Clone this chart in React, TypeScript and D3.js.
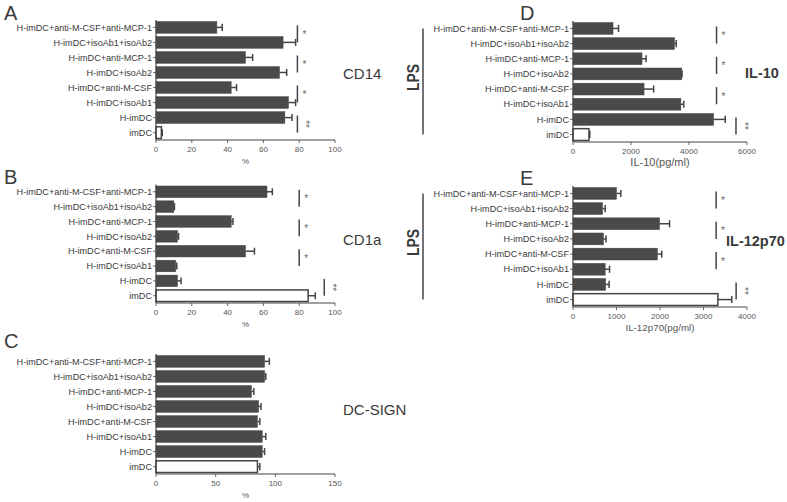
import * as d3 from 'd3';

const GROUPS = [
  'H-imDC+anti-M-CSF+anti-MCP-1',
  'H-imDC+isoAb1+isoAb2',
  'H-imDC+anti-MCP-1',
  'H-imDC+isoAb2',
  'H-imDC+anti-M-CSF',
  'H-imDC+isoAb1',
  'H-imDC',
  'imDC',
];

// means and upper error ends
const CD14 = [34, 71, 50, 69, 42, 74, 72, 3];
const CD14_ERR = [37, 78, 54, 73, 45, 78, 76, 3.5];
const CD1A = [62, 10, 42, 12, 50, 11, 12, 85];
const CD1A_ERR = [65, 10.3, 43, 12.6, 55, 11.6, 14, 89];
const DCSIGN = [91, 91, 80, 86, 85, 89, 89, 85];
const DCSIGN_ERR = [95, 92, 82, 88, 87, 92, 91, 87];
const IL10 = [1380, 3500, 2380, 3750, 2450, 3720, 4850, 550];
const IL10_ERR = [1570, 3560, 2520, 3760, 2780, 3820, 5250, 580];
const IL12 = [1000, 680, 1990, 700, 1940, 740, 750, 3330];
const IL12_ERR = [1100, 740, 2220, 760, 2040, 840, 830, 3650];

const PCT_TICKS = [0, 20, 40, 60, 80, 100];
const SIGN_TICKS = [0, 50, 100, 150];
const IL10_TICKS = [0, 2000, 4000, 6000];
const IL12_TICKS = [0, 1000, 2000, 3000, 4000];

type Bracket = { from: number; to: number; at: number; mark: string };

const CD14_SIG: Bracket[] = [
  { from: 0, to: 1, at: 79, mark: '*' },
  { from: 2, to: 3, at: 79, mark: '*' },
  { from: 4, to: 5, at: 79, mark: '*' },
  { from: 6, to: 7, at: 79, mark: '**' },
];
const CD1A_SIG: Bracket[] = [
  { from: 0, to: 1, at: 80, mark: '*' },
  { from: 2, to: 3, at: 80, mark: '*' },
  { from: 4, to: 5, at: 80, mark: '*' },
  { from: 6, to: 7, at: 94, mark: '**' },
];
const IL10_SIG: Bracket[] = [
  { from: 0, to: 1, at: 4950, mark: '*' },
  { from: 2, to: 3, at: 4950, mark: '*' },
  { from: 4, to: 5, at: 4950, mark: '*' },
  { from: 6, to: 7, at: 5620, mark: '**' },
];
const IL12_SIG: Bracket[] = [
  { from: 0, to: 1, at: 3290, mark: '*' },
  { from: 2, to: 3, at: 3290, mark: '*' },
  { from: 4, to: 5, at: 3290, mark: '*' },
  { from: 6, to: 7, at: 3750, mark: '**' },
];

const FONT = '"Liberation Sans", Arial, sans-serif';
const INK = '#444';
const TXT = '#3a3a3a';

interface PanelProps {
  letter: string;
  letterPos: [number, number];
  xRange: [number, number];
  yRange: [number, number];
  domain: [number, number];
  ticks: number[];
  values: number[];
  errs: number[];
  sig: Bracket[];
  xTitle: string;
  xTitleSize: number;
  title: string;
  titlePos: [number, number];
  titleBold: boolean;
  lps?: boolean;
}

function Panel(p: PanelProps) {
  const x = d3.scaleLinear().domain(p.domain).range(p.xRange);
  const y = d3.scaleBand<string>().domain(GROUPS).range(p.yRange).paddingInner(0.22).paddingOuter(0.1);
  const bw = y.bandwidth();
  const x0 = x(p.domain[0]);
  const [yTop, yBot] = p.yRange;
  const cy = (i: number) => (y(GROUPS[i]) ?? 0) + bw / 2;

  return (
    <g fontFamily={FONT}>
      <text x={p.letterPos[0]} y={p.letterPos[1]} fontSize={20} fill={TXT}>{p.letter}</text>

      {/* bars */}
      {GROUPS.map((g, i) => {
        const last = i === GROUPS.length - 1;
        return (
          <g key={g}>
            <rect
              x={x0}
              y={y(g)}
              width={Math.max(0, x(p.values[i]) - x0)}
              height={bw}
              fill={last ? '#fff' : '#4a4a4a'}
              stroke={INK}
              strokeWidth={last ? 1.5 : 0.5}
            />
            <line x1={x(p.values[i])} x2={x(p.errs[i])} y1={cy(i)} y2={cy(i)} stroke={INK} strokeWidth={1.5} />
            <line x1={x(p.errs[i])} x2={x(p.errs[i])} y1={cy(i) - bw * 0.3} y2={cy(i) + bw * 0.3} stroke={INK} strokeWidth={1.5} />
          </g>
        );
      })}

      {/* y axis */}
      <line x1={x0} x2={x0} y1={yTop} y2={yBot} stroke={INK} strokeWidth={1.2} />
      {GROUPS.map((g, i) => (
        <g key={g}>
          <line x1={x0 - 3} x2={x0} y1={cy(i)} y2={cy(i)} stroke={INK} strokeWidth={0.8} />
          <text x={x0 - 4} y={cy(i)} dy="0.35em" textAnchor="end" fontSize={9.1} fill={TXT}>{g}</text>
        </g>
      ))}

      {/* x axis */}
      <line x1={x0} x2={p.xRange[1]} y1={yBot} y2={yBot} stroke={INK} strokeWidth={1.2} />
      {p.ticks.map((t) => (
        <g key={t}>
          <line x1={x(t)} x2={x(t)} y1={yBot} y2={yBot + 3} stroke={INK} strokeWidth={0.8} />
          <text x={x(t)} y={yBot + 12} textAnchor="middle" fontSize={8} fill="#555">{t}</text>
        </g>
      ))}
      <text x={(x0 + p.xRange[1]) / 2} y={yBot + 24} textAnchor="middle" fontSize={p.xTitleSize} fill="#555">{p.xTitle}</text>

      {/* significance */}
      {p.sig.map((b, k) => {
        const bx = x(b.at);
        const ya = cy(b.from) - 2;
        const yb = cy(b.to);
        const ym = (ya + yb) / 2;
        return (
          <g key={k}>
            <line x1={bx} x2={bx} y1={ya} y2={yb} stroke={INK} strokeWidth={1.5} />
            {b.mark === '*' ? (
              <text x={bx + 5} y={ym + 4} fontSize={10} fill="#666">*</text>
            ) : (
              <text transform={`translate(${bx + 5},${ym}) rotate(90)`} textAnchor="middle" fontSize={10} fill="#666">**</text>
            )}
          </g>
        );
      })}

      <text x={p.titlePos[0]} y={p.titlePos[1]} dy="0.35em" fontSize={p.titleBold ? 14.5 : 15} fontWeight={p.titleBold ? 'bold' : 'normal'} fill={TXT}>{p.title}</text>

      {p.lps && (
        <g>
          <text transform={`translate(419,${(yTop + yBot) / 2 - 4}) rotate(-90)`} textAnchor="middle" fontSize={16} fontWeight="bold" fill={TXT}
            textLength={27} lengthAdjust="spacingAndGlyphs">LPS</text>
          <line x1={423} x2={423} y1={cy(0)} y2={cy(7)} stroke={INK} strokeWidth={1.5} />
        </g>
      )}
    </g>
  );
}

export default function App() {
  return (
    <div style={{ position: 'absolute', left: 0, top: 0 }}>
      <svg width={787} height={502} style={{ display: 'block', background: '#fff' }}>
        <Panel letter="A" letterPos={[4, 20]} xRange={[156, 335]} yRange={[20, 140]} domain={[0, 100]} ticks={PCT_TICKS}
          values={CD14} errs={CD14_ERR} sig={CD14_SIG} xTitle="%" xTitleSize={8} title="CD14" titlePos={[343, 74]} titleBold={false} />
        <Panel letter="B" letterPos={[4, 184]} xRange={[156, 335]} yRange={[184.5, 303]} domain={[0, 100]} ticks={PCT_TICKS}
          values={CD1A} errs={CD1A_ERR} sig={CD1A_SIG} xTitle="%" xTitleSize={8} title="CD1a" titlePos={[343, 240]} titleBold={false} />
        <Panel letter="C" letterPos={[4, 348]} xRange={[156, 335]} yRange={[354, 474]} domain={[0, 150]} ticks={SIGN_TICKS}
          values={DCSIGN} errs={DCSIGN_ERR} sig={[]} xTitle="%" xTitleSize={8} title="DC-SIGN" titlePos={[343, 410]} titleBold={false} />
        <Panel letter="D" letterPos={[520, 20]} xRange={[573, 747]} yRange={[21, 142]} domain={[0, 6000]} ticks={IL10_TICKS}
          values={IL10} errs={IL10_ERR} sig={IL10_SIG} xTitle="IL-10(pg/ml)" xTitleSize={11} title="IL-10" titlePos={[745, 73]} titleBold lps />
        <Panel letter="E" letterPos={[520, 185]} xRange={[573, 747]} yRange={[186, 307]} domain={[0, 4000]} ticks={IL12_TICKS}
          values={IL12} errs={IL12_ERR} sig={IL12_SIG} xTitle="IL-12p70(pg/ml)" xTitleSize={9.8} title="IL-12p70" titlePos={[726, 241]} titleBold lps />
      </svg>
    </div>
  );
}
